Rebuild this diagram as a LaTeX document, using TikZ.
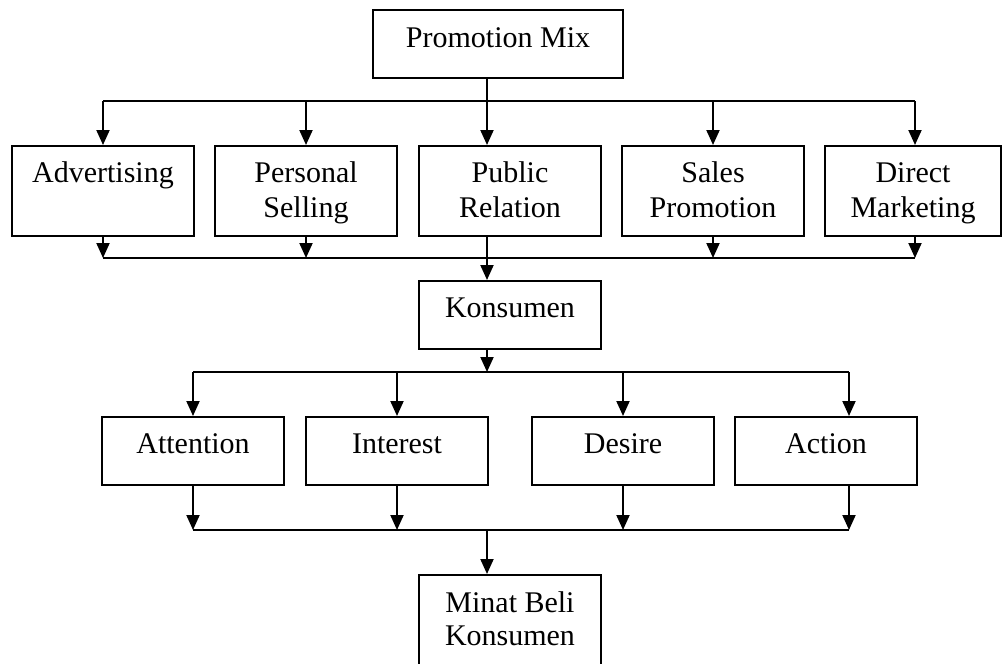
\documentclass[tikz,border=0pt]{standalone}
\usepackage{fontspec}
\setmainfont{Liberation Serif}
\usetikzlibrary{arrows.meta}
\begin{document}
\begin{tikzpicture}[x=1pt,y=-1pt,
  box/.style={draw,line width=2pt,inner sep=0pt,rectangle},
  lbl/.style={font=\fontsize{30}{35}\selectfont,align=center,inner sep=0pt,anchor=north},
  conn/.style={line width=2pt},
  arr/.style={conn,-{Triangle[length=15pt,width=13pt]}}]
\useasboundingbox (0,0) rectangle (1002,664);
\clip (0,0) rectangle (1002,664);
% boxes
\node[box,minimum width=250pt,minimum height=68pt] (pm) at (498,44) {};
\node[box,minimum width=182pt,minimum height=90pt] (adv) at (103,191) {};
\node[box,minimum width=182pt,minimum height=90pt] (ps) at (306,191) {};
\node[box,minimum width=182pt,minimum height=90pt] (pr) at (510,191) {};
\node[box,minimum width=182pt,minimum height=90pt] (sp) at (713,191) {};
\node[box,minimum width=176pt,minimum height=90pt] (dm) at (913,191) {};
\node[box,minimum width=182pt,minimum height=68pt] (kon) at (510,315) {};
\node[box,minimum width=182pt,minimum height=68pt] (att) at (193,451) {};
\node[box,minimum width=182pt,minimum height=68pt] (int) at (397,451) {};
\node[box,minimum width=182pt,minimum height=68pt] (des) at (623,451) {};
\node[box,minimum width=182pt,minimum height=68pt] (act) at (826,451) {};
\node[box,minimum width=182pt,minimum height=92pt] (mbk) at (510,621) {};
% labels
\node[lbl] (pm-t) at ([yshift=-13.5pt]pm.north) {\strut Promotion Mix};
\node[lbl] (adv-t) at ([yshift=-12.5pt]adv.north) {\strut Advertising};
\node[lbl] (ps-t) at ([yshift=-12.5pt]ps.north) {\strut Personal\\Selling};
\node[lbl] (pr-t) at ([yshift=-12.5pt]pr.north) {\strut Public\\Relation};
\node[lbl] (sp-t) at ([yshift=-12.5pt]sp.north) {\strut Sales\\Promotion};
\node[lbl] (dm-t) at ([yshift=-12.5pt]dm.north) {\strut Direct\\Marketing};
\node[lbl] (kon-t) at ([yshift=-12.5pt]kon.north) {\strut Konsumen};
\node[lbl] (att-t) at ([yshift=-12.5pt]att.north) {\strut Attention};
\node[lbl] (int-t) at ([yshift=-12.5pt]int.north) {\strut Interest};
\node[lbl] (des-t) at ([yshift=-12.5pt]des.north) {\strut Desire};
\node[lbl] (act-t) at ([yshift=-12.5pt]act.north) {\strut Action};
\node[lbl,font=\fontsize{30}{33}\selectfont] (mbk-t) at ([yshift=-14.9pt]mbk.north) {\strut Minat Beli\\Konsumen};
% helper coordinates
\coordinate (xc) at (487,0);
\coordinate (xe) at (915,0);
\coordinate (xf) at (849,0);
\coordinate (b1) at (0,101);
\coordinate (b2) at (0,258);
\coordinate (b3) at (0,372);
\coordinate (b4) at (0,530);
% top branch
\draw[arr] (pm.south -| xc) -- (pr.north -| xc);
\draw[conn] (adv.north |- b1) -- (b1 -| xe);
\draw[arr] (adv.north |- b1) -- (adv.north);
\draw[arr] (ps.north |- b1) -- (ps.north);
\draw[arr] (sp.north |- b1) -- (sp.north);
\draw[arr] (b1 -| xe) -- (dm.north -| xe);
% collector 1
\draw[arr] (adv.south) -- (adv.south |- b2);
\draw[arr] (ps.south) -- (ps.south |- b2);
\draw[arr] (sp.south) -- (sp.south |- b2);
\draw[arr] (dm.south -| xe) -- (b2 -| xe);
\draw[conn] (adv.south |- b2) -- (b2 -| xe);
\draw[arr] (pr.south -| xc) -- (kon.north -| xc);
% second branch
\draw[arr] (kon.south -| xc) -- (b3 -| xc);
\draw[conn] (att.north |- b3) -- (b3 -| xf);
\draw[arr] (att.north |- b3) -- (att.north);
\draw[arr] (int.north |- b3) -- (int.north);
\draw[arr] (des.north |- b3) -- (des.north);
\draw[arr] (b3 -| xf) -- (act.north -| xf);
% collector 2
\draw[arr] (att.south) -- (att.south |- b4);
\draw[arr] (int.south) -- (int.south |- b4);
\draw[arr] (des.south) -- (des.south |- b4);
\draw[arr] (act.south -| xf) -- (b4 -| xf);
\draw[conn] (att.south |- b4) -- (b4 -| xf);
\draw[arr] (b4 -| xc) -- (mbk.north -| xc);
\end{tikzpicture}
\end{document}
